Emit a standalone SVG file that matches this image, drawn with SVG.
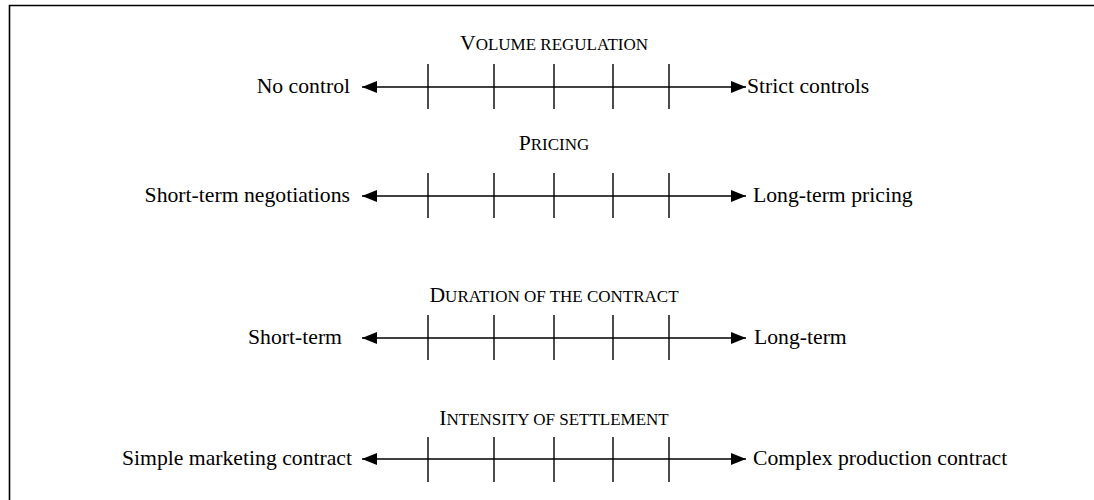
<svg xmlns="http://www.w3.org/2000/svg" width="1094" height="500" viewBox="0 0 1094 500">
<defs>
<style>
text{font-family:"Liberation Serif","Times New Roman",serif;fill:#000}
.lbl{font-size:21.7px}
.ttl{font-size:17px}
.cap{font-size:21.7px}
.ax{stroke:#000;stroke-width:1.4;fill:none}
.tk{stroke:#000;stroke-width:1.4}
.frame{stroke:#000;stroke-width:1.6;fill:none}
</style>
<marker id="ah" viewBox="0 0 15 12" refX="15" refY="6" markerWidth="15" markerHeight="12" markerUnits="userSpaceOnUse" orient="auto-start-reverse">
<path d="M0,0 L15,6 L0,12 Z" fill="#000"/>
</marker>
</defs>
<rect width="1094" height="500" fill="#fff"/>
<path class="frame" d="M9.5,500 V5.5 H1094"/>
<g id="connectors">
<line class="ax" x1="362" y1="87" x2="746" y2="87" marker-start="url(#ah)" marker-end="url(#ah)"/>
<line class="ax" x1="362" y1="196" x2="746" y2="196" marker-start="url(#ah)" marker-end="url(#ah)"/>
<line class="ax" x1="362" y1="338" x2="746" y2="338" marker-start="url(#ah)" marker-end="url(#ah)"/>
<line class="ax" x1="362" y1="459" x2="746" y2="459" marker-start="url(#ah)" marker-end="url(#ah)"/>
</g>
<g id="scale-volume">
<text class="ttl" x="554" y="50" text-anchor="middle"><tspan class="cap">V</tspan>OLUME REGULATION</text>
<g class="tk"><line x1="428" y1="64" x2="428" y2="109"/><line x1="494" y1="64" x2="494" y2="109"/><line x1="554" y1="64" x2="554" y2="109"/><line x1="613" y1="64" x2="613" y2="109"/><line x1="669" y1="64" x2="669" y2="109"/></g>
<text class="lbl" x="350" y="93" text-anchor="end">No control</text>
<text class="lbl" x="747" y="93">Strict controls</text>
</g>
<g id="scale-pricing">
<text class="ttl" x="554" y="150" text-anchor="middle"><tspan class="cap">P</tspan>RICING</text>
<g class="tk"><line x1="428" y1="173" x2="428" y2="218"/><line x1="494" y1="173" x2="494" y2="218"/><line x1="554" y1="173" x2="554" y2="218"/><line x1="613" y1="173" x2="613" y2="218"/><line x1="669" y1="173" x2="669" y2="218"/></g>
<text class="lbl" x="350" y="202" text-anchor="end">Short-term negotiations</text>
<text class="lbl" x="753" y="202">Long-term pricing</text>
</g>
<g id="scale-duration">
<text class="ttl" x="554" y="302" text-anchor="middle"><tspan class="cap">D</tspan>URATION OF THE CONTRACT</text>
<g class="tk"><line x1="428" y1="315" x2="428" y2="360"/><line x1="494" y1="315" x2="494" y2="360"/><line x1="554" y1="315" x2="554" y2="360"/><line x1="613" y1="315" x2="613" y2="360"/><line x1="669" y1="315" x2="669" y2="360"/></g>
<text class="lbl" x="342" y="344" text-anchor="end">Short-term</text>
<text class="lbl" x="754" y="344">Long-term</text>
</g>
<g id="scale-intensity">
<text class="ttl" x="554" y="425" text-anchor="middle"><tspan class="cap">I</tspan>NTENSITY OF SETTLEMENT</text>
<g class="tk"><line x1="428" y1="437" x2="428" y2="482"/><line x1="494" y1="437" x2="494" y2="482"/><line x1="554" y1="437" x2="554" y2="482"/><line x1="613" y1="437" x2="613" y2="482"/><line x1="669" y1="437" x2="669" y2="482"/></g>
<text class="lbl" x="352" y="465" text-anchor="end">Simple marketing contract</text>
<text class="lbl" x="753" y="465">Complex production contract</text>
</g>
</svg>
